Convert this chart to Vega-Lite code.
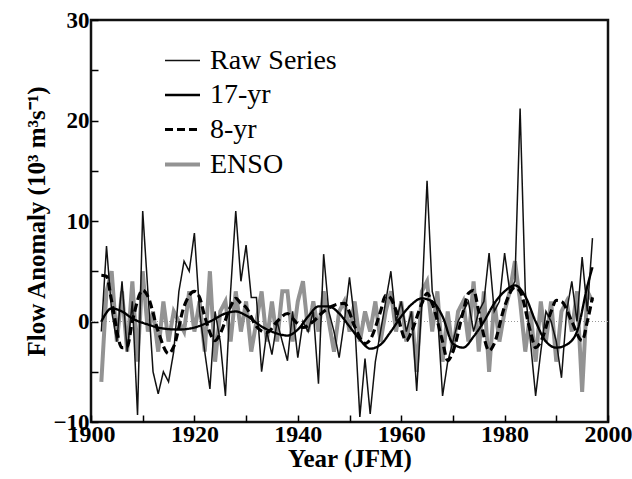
{
  "$schema": "https://vega.github.io/schema/vega-lite/v6.json",
  "autosize": {"type": "none"},
  "padding": {"left": 91, "top": 20, "right": 24, "bottom": 57},
  "width": 517,
  "height": 402,
  "background": "white",
  "config": {
    "view": {"stroke": "#111111", "strokeWidth": 2.5},
    "font": "Liberation Serif"
  },
  "datasets": {
    "raw": [
      {"year":1902,"v":-1},{"year":1903,"v":7.5},{"year":1904,"v":1},{"year":1905,"v":-2},{"year":1906,"v":4},{"year":1907,"v":-3},{"year":1908,"v":2},{"year":1909,"v":-9.3},{"year":1910,"v":11},{"year":1911,"v":3},
      {"year":1912,"v":-5},{"year":1913,"v":-7.2},{"year":1914,"v":-5},{"year":1915,"v":-6},{"year":1916,"v":-3},{"year":1917,"v":3},{"year":1918,"v":6},{"year":1919,"v":5},{"year":1920,"v":8.8},{"year":1921,"v":1},
      {"year":1922,"v":-3},{"year":1923,"v":-6.7},{"year":1924,"v":1},{"year":1925,"v":-2},{"year":1926,"v":-7.4},{"year":1927,"v":3},{"year":1928,"v":11},{"year":1929,"v":4},{"year":1930,"v":7.6},{"year":1931,"v":2.4},
      {"year":1932,"v":2.4},{"year":1933,"v":-5},{"year":1934,"v":-1},{"year":1935,"v":-3.3},{"year":1936,"v":0},{"year":1937,"v":-2},{"year":1938,"v":-3.9},{"year":1939,"v":1},{"year":1940,"v":-3.6},{"year":1941,"v":0},
      {"year":1942,"v":-1},{"year":1943,"v":1},{"year":1944,"v":-6.2},{"year":1945,"v":6.7},{"year":1946,"v":1},{"year":1947,"v":-1},{"year":1948,"v":-3.6},{"year":1949,"v":0},{"year":1950,"v":4.4},{"year":1951,"v":0},
      {"year":1952,"v":-9.5},{"year":1953,"v":-3.7},{"year":1954,"v":-9.2},{"year":1955,"v":-4},{"year":1956,"v":-1},{"year":1957,"v":2},{"year":1958,"v":5},{"year":1959,"v":0},{"year":1960,"v":2},{"year":1961,"v":-1},
      {"year":1962,"v":1},{"year":1963,"v":-6.9},{"year":1964,"v":2},{"year":1965,"v":14},{"year":1966,"v":3},{"year":1967,"v":1},{"year":1968,"v":-7.4},{"year":1969,"v":-4},{"year":1970,"v":-2},{"year":1971,"v":0},
      {"year":1972,"v":1},{"year":1973,"v":2},{"year":1974,"v":-1},{"year":1975,"v":1},{"year":1976,"v":2},{"year":1977,"v":6.8},{"year":1978,"v":1},{"year":1979,"v":2},{"year":1980,"v":6.8},{"year":1981,"v":3},
      {"year":1982,"v":4},{"year":1983,"v":21.2},{"year":1984,"v":3},{"year":1985,"v":-2},{"year":1986,"v":-7.4},{"year":1987,"v":-3},{"year":1988,"v":1},{"year":1989,"v":0},{"year":1990,"v":-2},{"year":1991,"v":-5.6},
      {"year":1992,"v":1},{"year":1993,"v":4},{"year":1994,"v":0},{"year":1995,"v":6.4},{"year":1996,"v":1},{"year":1997,"v":8.3}
    ],
    "enso": [
      {"year":1902,"v":-6},{"year":1903,"v":3},{"year":1904,"v":5},{"year":1905,"v":-2},{"year":1906,"v":3},{"year":1907,"v":-3},{"year":1908,"v":4},{"year":1909,"v":-4},{"year":1910,"v":5},{"year":1911,"v":-1},
      {"year":1912,"v":1},{"year":1913,"v":-3},{"year":1914,"v":2},{"year":1915,"v":-2},{"year":1916,"v":1},{"year":1917,"v":0},{"year":1918,"v":-1},{"year":1919,"v":3},{"year":1920,"v":-1},{"year":1921,"v":2},
      {"year":1922,"v":-3},{"year":1923,"v":5},{"year":1924,"v":-4},{"year":1925,"v":1},{"year":1926,"v":2},{"year":1927,"v":-2},{"year":1928,"v":3},{"year":1929,"v":-1},{"year":1930,"v":2},{"year":1931,"v":-3},
      {"year":1932,"v":0},{"year":1933,"v":3},{"year":1934,"v":-2},{"year":1935,"v":2},{"year":1936,"v":-2},{"year":1937,"v":3},{"year":1938,"v":3},{"year":1939,"v":-2},{"year":1940,"v":2},{"year":1941,"v":4},
      {"year":1942,"v":-1},{"year":1943,"v":2},{"year":1944,"v":-1},{"year":1945,"v":3},{"year":1946,"v":0},{"year":1947,"v":-3},{"year":1948,"v":1},{"year":1949,"v":2},{"year":1950,"v":-1},{"year":1951,"v":2},
      {"year":1952,"v":-2},{"year":1953,"v":1},{"year":1954,"v":-1},{"year":1955,"v":2},{"year":1956,"v":-2},{"year":1957,"v":1},{"year":1958,"v":3},{"year":1959,"v":-1},{"year":1960,"v":2},{"year":1961,"v":-2},
      {"year":1962,"v":1},{"year":1963,"v":-5},{"year":1964,"v":3},{"year":1965,"v":4},{"year":1966,"v":-1},{"year":1967,"v":3},{"year":1968,"v":-4},{"year":1969,"v":1},{"year":1970,"v":-3},{"year":1971,"v":1},
      {"year":1972,"v":2},{"year":1973,"v":-2},{"year":1974,"v":4},{"year":1975,"v":-3},{"year":1976,"v":3},{"year":1977,"v":-5},{"year":1978,"v":2},{"year":1979,"v":-2},{"year":1980,"v":1},{"year":1981,"v":3},
      {"year":1982,"v":6},{"year":1983,"v":2},{"year":1984,"v":-3},{"year":1985,"v":1},{"year":1986,"v":-4},{"year":1987,"v":2},{"year":1988,"v":-2},{"year":1989,"v":2},{"year":1990,"v":-4},{"year":1991,"v":1},
      {"year":1992,"v":2},{"year":1993,"v":-1},{"year":1994,"v":3},{"year":1995,"v":-7},{"year":1996,"v":3},{"year":1997,"v":2}
    ],
    "yr17": [
      {"year":1902,"v":0},{"year":1904,"v":1.3},{"year":1906,"v":1.0},{"year":1908,"v":0.3},{"year":1911,"v":-0.3},{"year":1914,"v":-0.7},{"year":1917,"v":-0.8},{"year":1920,"v":-0.6},{"year":1923,"v":0},{"year":1926,"v":0.8},
      {"year":1928,"v":1.0},{"year":1930,"v":0.6},{"year":1933,"v":-0.5},{"year":1936,"v":-1.2},{"year":1938,"v":-1.4},{"year":1940,"v":-0.8},{"year":1942,"v":0.5},{"year":1944,"v":1.5},{"year":1946,"v":1.5},{"year":1948,"v":0.8},
      {"year":1950,"v":-0.5},{"year":1952,"v":-1.8},{"year":1954,"v":-2.7},{"year":1956,"v":-2.3},{"year":1958,"v":-1},{"year":1960,"v":0.5},{"year":1962,"v":1.7},{"year":1964,"v":2.3},{"year":1966,"v":2},{"year":1968,"v":0.5},
      {"year":1970,"v":-2.2},{"year":1972,"v":-2.6},{"year":1974,"v":-1.5},{"year":1976,"v":0},{"year":1978,"v":1.8},{"year":1980,"v":3},{"year":1982,"v":3.6},{"year":1984,"v":2.5},{"year":1986,"v":0},{"year":1988,"v":-2},
      {"year":1990,"v":-2.6},{"year":1992,"v":-2.3},{"year":1994,"v":-1},{"year":1996,"v":3.5},{"year":1997,"v":5.4}
    ],
    "yr8": [
      {"year":1902,"v":4.6},{"year":1903,"v":4.5},{"year":1904,"v":2},{"year":1906,"v":-2.6},{"year":1907,"v":-2.5},{"year":1908,"v":0},{"year":1910,"v":3.1},{"year":1911,"v":2.5},{"year":1913,"v":-1},{"year":1915,"v":-3.2},
      {"year":1916,"v":-2.5},{"year":1918,"v":1.5},{"year":1920,"v":3.0},{"year":1921,"v":2.4},{"year":1922,"v":0.5},{"year":1924,"v":-1.9},{"year":1925,"v":-1.2},{"year":1927,"v":1.5},{"year":1928,"v":2.3},{"year":1929,"v":1.8},
      {"year":1930,"v":1.4},{"year":1932,"v":-0.5},{"year":1934,"v":-1.1},{"year":1936,"v":0},{"year":1938,"v":0.8},{"year":1939,"v":0.3},{"year":1941,"v":-0.6},{"year":1943,"v":0},{"year":1945,"v":1},{"year":1947,"v":1.6},
      {"year":1949,"v":1.8},{"year":1951,"v":-0.5},{"year":1953,"v":-2.2},{"year":1954,"v":-1.8},{"year":1956,"v":1},{"year":1957,"v":2.6},{"year":1958,"v":2.3},{"year":1959,"v":1.1},{"year":1961,"v":-1.9},{"year":1962,"v":-1},
      {"year":1964,"v":1.8},{"year":1965,"v":2.8},{"year":1966,"v":1.8},{"year":1968,"v":-2},{"year":1969,"v":-3.9},{"year":1970,"v":-3},{"year":1972,"v":1},{"year":1973,"v":2.8},{"year":1974,"v":3.1},{"year":1975,"v":1},
      {"year":1977,"v":-2.9},{"year":1978,"v":-2.2},{"year":1980,"v":1.5},{"year":1982,"v":3.4},{"year":1983,"v":3},{"year":1985,"v":-1},{"year":1986,"v":-2.6},{"year":1987,"v":-2},{"year":1989,"v":1},{"year":1990,"v":2.1},
      {"year":1991,"v":2},{"year":1993,"v":0},{"year":1995,"v":-1.9},{"year":1996,"v":0},{"year":1997,"v":2.4}
    ]
  },
  "encoding": {
    "x": {
      "field": "year", "type": "quantitative",
      "scale": {"domain": [1900, 2000], "nice": false, "zero": false},
      "axis": {
        "title": "Year (JFM)", "titleFont": "Liberation Serif", "titleFontSize": 25, "titleFontWeight": "bold", "titleColor": "black", "titlePadding": 0,
        "values": [1900,1910,1920,1930,1940,1950,1960,1970,1980,1990,2000],
        "labelExpr": "datum.value % 20 == 0 ? datum.label : ''",
        "format": "d", "labelFont": "Liberation Serif", "labelFontSize": 24, "labelFontWeight": "bold", "labelColor": "black",
        "labelFlush": false, "labelPadding": 7, "tickSize": -7, "tickColor": "black", "tickWidth": 1.5,
        "domain": false, "grid": false
      }
    },
    "y": {
      "field": "v", "type": "quantitative",
      "scale": {"domain": [-10, 30], "nice": false},
      "axis": {
        "title": "Flow Anomaly (10³ m³s⁻¹)", "titleFont": "Liberation Serif", "titleFontSize": 25, "titleFontWeight": "bold", "titleColor": "black", "titlePadding": 3,
        "values": [-10,-5,0,5,10,15,20,25,30],
        "labelExpr": "datum.value % 10 == 0 ? datum.label : ''",
        "labelFont": "Liberation Serif", "labelFontSize": 23, "labelFontWeight": "bold", "labelColor": "black",
        "labelFlush": false, "labelPadding": 9, "tickSize": -7, "tickColor": "black", "tickWidth": 1.5,
        "domain": false, "grid": false
      }
    },
    "color": {
      "field": "series", "type": "nominal",
      "scale": {"domain": ["Raw Series", "17-yr", "8-yr", "ENSO"], "range": ["#111111", "#000000", "#000000", "#939393"]},
      "legend": {
        "title": null, "orient": "none", "legendX": 72, "legendY": 22,
        "symbolType": "stroke", "symbolSize": 1225, "labelFont": "Liberation Serif", "labelFontSize": 28, "labelColor": "black",
        "rowPadding": 1, "labelOffset": 8, "symbolOpacity": 1
      }
    },
    "strokeDash": {
      "field": "series", "type": "nominal",
      "scale": {"domain": ["Raw Series", "17-yr", "8-yr", "ENSO"], "range": [[1,0],[1,0],[8,4],[1,0]]},
      "legend": {"title": null, "orient": "none", "legendX": 72, "legendY": 22, "symbolType": "stroke", "symbolSize": 1225, "labelFont": "Liberation Serif", "labelFontSize": 28, "labelColor": "black", "rowPadding": 1, "labelOffset": 8}
    },
    "strokeWidth": {
      "field": "series", "type": "nominal",
      "scale": {"domain": ["Raw Series", "17-yr", "8-yr", "ENSO"], "range": [1.5, 4, 3.5, 3.2]},
      "legend": {"title": null, "orient": "none", "legendX": 72, "legendY": 22, "symbolType": "stroke", "symbolSize": 1225, "labelFont": "Liberation Serif", "labelFontSize": 28, "labelColor": "black", "rowPadding": 1, "labelOffset": 8}
    }
  },
  "layer": [
    {
      "data": {"values": [{"z": 0}]},
      "mark": {"type": "rule", "color": "#999999", "strokeDash": [1, 2], "strokeWidth": 1},
      "encoding": {"y": {"field": "z", "type": "quantitative"}, "x": null, "color": null, "strokeDash": null, "strokeWidth": null}
    },
    {
      "data": {"name": "enso"},
      "transform": [{"calculate": "'ENSO'", "as": "series"}],
      "mark": {"type": "line"}
    },
    {
      "data": {"name": "raw"},
      "transform": [{"calculate": "'Raw Series'", "as": "series"}],
      "mark": {"type": "line"}
    },
    {
      "data": {"name": "yr8"},
      "transform": [{"calculate": "'8-yr'", "as": "series"}],
      "mark": {"type": "line", "interpolate": "monotone"}
    },
    {
      "data": {"name": "yr17"},
      "transform": [{"calculate": "'17-yr'", "as": "series"}],
      "mark": {"type": "line", "interpolate": "monotone"}
    }
  ]
}
